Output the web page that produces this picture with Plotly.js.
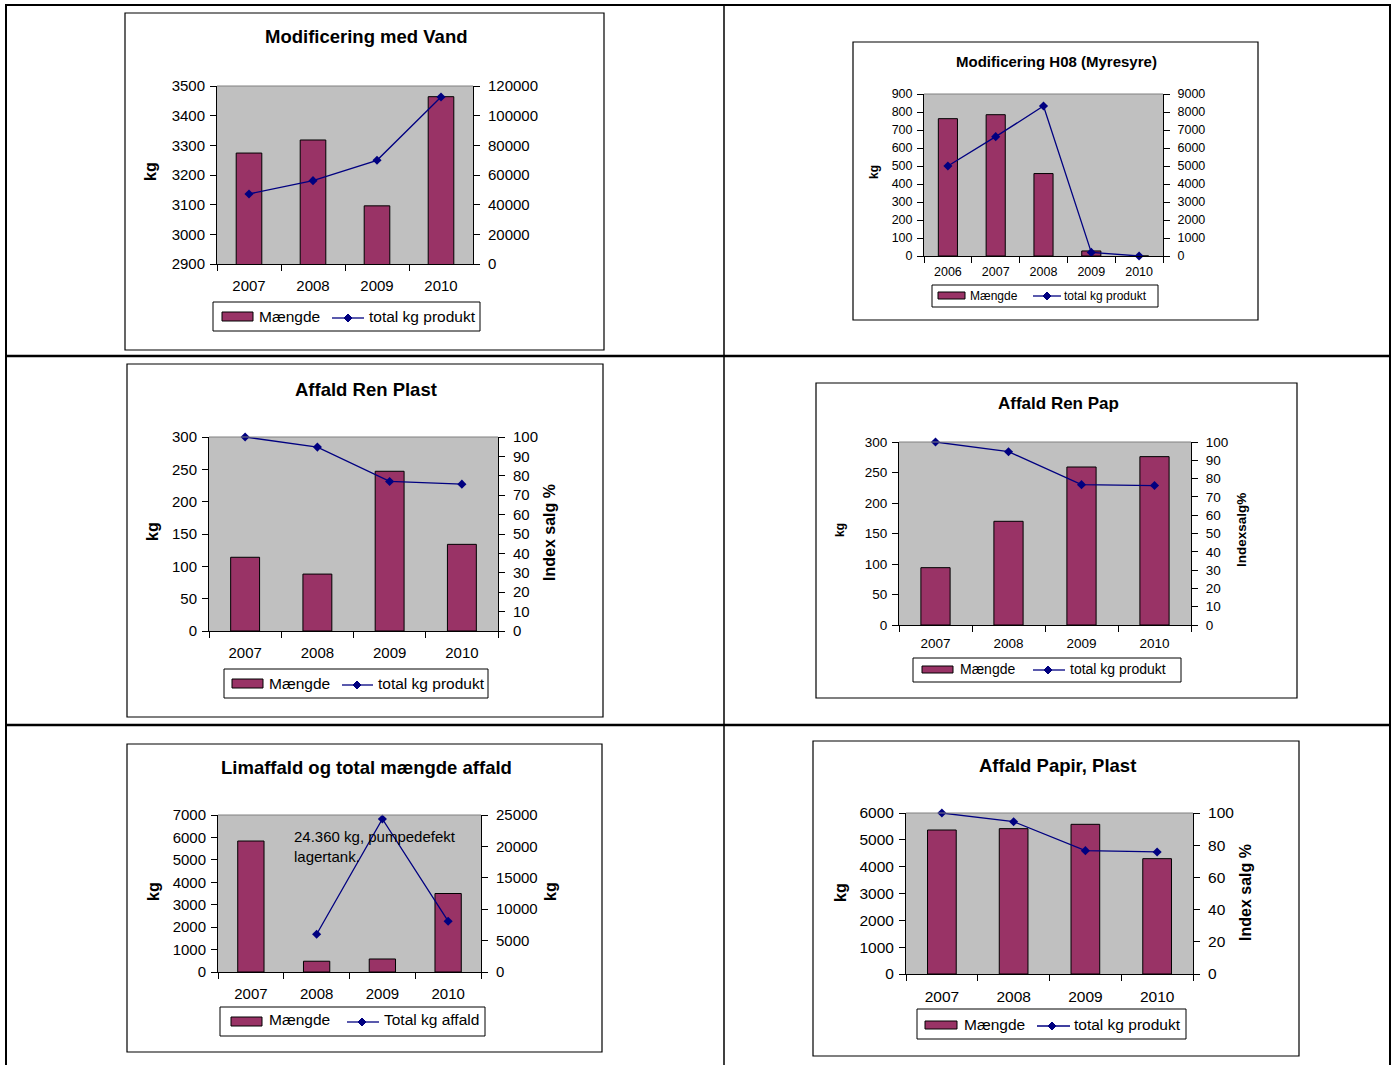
<!DOCTYPE html>
<html>
<head>
<meta charset="utf-8">
<script src="https://cdn.plot.ly/plotly-3.0.1.min.js"></script>
<style>
html,body{margin:0;padding:0;background:#fff;}
#chart{width:1394px;height:1065px;}
</style>
</head>
<body>
<div id="chart"></div>
<script>
// ---------- DATA ----------
const years4 = ['2007', '2008', '2009', '2010'];
const years5 = ['2006', '2007', '2008', '2009', '2010'];

const vandTitle = 'Modificering med Vand';
const vandMaengde = [3274, 3318, 3096, 3464];
const vandTotal = [47200, 56200, 69900, 112600];

const h08Title = 'Modificering H08 (Myresyre)';
const h08Maengde = [763, 785, 458, 28, 0];
const h08Total = [5000, 6630, 8330, 200, 0];

const plastTitle = 'Affald Ren Plast';
const plastMaengde = [114, 88, 247, 134];
const plastIndex = [100, 94.8, 77.1, 75.7];

const papTitle = 'Affald Ren Pap';
const papMaengde = [94, 170, 259, 276];
const papIndex = [100, 94.7, 76.7, 76.2];

const limTitle = 'Limaffald og total mængde affald';
const limMaengde = [5840, 480, 580, 3500];
const limTotal = [null, 6010, 24360, 8090];
const limNote = '24.360 kg, pumpedefekt<br>lagertank.';

const papirTitle = 'Affald Papir, Plast';
const papirMaengde = [5366, 5416, 5578, 4298];
const papirIndex = [100, 94.6, 76.6, 75.8];

const barName = 'Mængde';
const lineNameProdukt = 'total kg produkt';
const lineNameAffald = 'Total kg affald';

// ---------- STYLE / LAYOUT HELPERS ----------
const W = 1394, H = 1065;
const X = px => px / W;
const Y = py => 1 - py / H;
const FONT = 'Liberation Sans, Arial, sans-serif';
const BAR_COLOR = '#993366';
const LINE_COLOR = '#000080';

const data = [];
const layout = {
  width: W, height: H,
  margin: {l: 0, r: 0, t: 0, b: 0},
  paper_bgcolor: '#ffffff',
  plot_bgcolor: '#C0C0C0',
  showlegend: false,
  bargap: 0.6,
  font: {family: FONT, color: '#000'},
  shapes: [],
  annotations: []
};

function line(x0, y0, x1, y1, w, c) {
  layout.shapes.push({type: 'line', xref: 'paper', yref: 'paper',
    x0: X(x0), y0: Y(y0), x1: X(x1), y1: Y(y1),
    line: {color: c || '#000', width: w || 1}});
}
function rect(x0, y0, x1, y1, w, c, fill) {
  layout.shapes.push({type: 'rect', xref: 'paper', yref: 'paper',
    x0: X(x0), y0: Y(y0), x1: X(x1), y1: Y(y1),
    line: {color: c || '#000', width: w === undefined ? 1 : w},
    fillcolor: fill || 'rgba(0,0,0,0)'});
}
function text(t, x, y, size, opts) {
  layout.annotations.push(Object.assign({
    text: t, xref: 'paper', yref: 'paper', x: X(x), y: Y(y),
    showarrow: false, xanchor: 'center', yanchor: 'middle',
    font: {family: FONT, size: size, color: '#000'}
  }, opts || {}));
}

function chart(i, c) {
  const xid = i === 1 ? 'x' : 'x' + i;
  const yid = i === 1 ? 'y' : 'y' + i;
  const y2n = i + 6;
  const y2id = 'y' + y2n;
  const xa = i === 1 ? 'xaxis' : 'xaxis' + i;
  const ya = i === 1 ? 'yaxis' : 'yaxis' + i;
  const y2a = 'yaxis' + y2n;
  const tf = {family: FONT, size: c.tick, color: '#000'};

  data.push({type: 'bar', x: c.cats, y: c.bars, name: c.barName,
    xaxis: xid, yaxis: yid,
    marker: {color: BAR_COLOR, line: {color: '#000', width: 1}},
    hoverinfo: 'skip'});
  data.push({type: 'scatter', mode: 'lines+markers', x: c.cats, y: c.line, name: c.lineName,
    xaxis: xid, yaxis: y2id, cliponaxis: false,
    line: {color: LINE_COLOR, width: 1.3},
    marker: {symbol: 'diamond', size: 7, color: LINE_COLOR},
    hoverinfo: 'skip'});

  layout[xa] = {domain: [X(c.plot[0]), X(c.plot[2])], anchor: yid,
    type: 'category', range: [-0.5, c.cats.length - 0.5],
    tickson: 'boundaries', ticks: 'outside', ticklen: 6, tickcolor: '#000',
    showline: true, linecolor: '#000', linewidth: 1,
    showgrid: false, zeroline: false, tickfont: tf, ticklabelstandoff: c.xstand,
    fixedrange: true};
  layout[ya] = {domain: [Y(c.plot[3]), Y(c.plot[1])], anchor: xid,
    range: c.lRange, dtick: c.lDtick, tick0: c.lRange[0],
    ticks: 'outside', ticklen: 6, tickcolor: '#000',
    showline: true, linecolor: '#000', linewidth: 1,
    showgrid: false, zeroline: false, tickfont: tf, ticklabelstandoff: 2,
    exponentformat: 'none', separatethousands: false,
    fixedrange: true};
  layout[y2a] = {overlaying: yid, side: 'right', anchor: xid,
    range: c.rRange, dtick: c.rDtick, tick0: 0,
    ticks: 'outside', ticklen: 6, tickcolor: '#000',
    showline: true, linecolor: '#000', linewidth: 1,
    showgrid: false, zeroline: false, tickfont: tf, ticklabelstandoff: 5,
    exponentformat: 'none', separatethousands: false, tickformat: 'd',
    fixedrange: true};

  // plot-area top border (grey) and chart frame
  line(c.plot[0], c.plot[1], c.plot[2], c.plot[1], 1, '#808080');
  rect(c.frame[0], c.frame[1], c.frame[2], c.frame[3], 1.2, '#000');

  // title
  text('<b>' + c.title + '</b>', c.titlePos[0], c.titlePos[1], c.titleSize);
  // axis titles
  text('<b>' + c.lTitle + '</b>', c.lTitlePos[0], c.lTitlePos[1], c.lTitleSize, {textangle: -90});
  if (c.rTitle) text('<b>' + c.rTitle + '</b>', c.rTitlePos[0], c.rTitlePos[1], c.rTitleSize, {textangle: -90});

  // legend
  const L = c.leg;
  rect(L.box[0], L.box[1], L.box[2], L.box[3], 1, '#000');
  rect(L.swatch[0], L.swatch[1], L.swatch[2], L.swatch[3], 1, '#000', BAR_COLOR);
  text(c.barName, L.t1, L.cy, L.size, {xanchor: 'left'});
  line(L.ln[0], L.ln[2], L.ln[1], L.ln[2], 1.3, LINE_COLOR);
  const d = 4, cx = L.dia, cy = L.ln[2];
  layout.shapes.push({type: 'path', xref: 'paper', yref: 'paper',
    path: `M ${X(cx - d)},${Y(cy)} L ${X(cx)},${Y(cy - d)} L ${X(cx + d)},${Y(cy)} L ${X(cx)},${Y(cy + d)} Z`,
    fillcolor: LINE_COLOR, line: {color: LINE_COLOR, width: 1}});
  text(c.lineName, L.t2, L.cy, L.size, {xanchor: 'left'});
}

// ---------- CHARTS ----------
chart(1, {
  title: vandTitle, cats: years4, bars: vandMaengde, line: vandTotal,
  barName: barName, lineName: lineNameProdukt,
  plot: [217, 86, 473, 264], frame: [125, 13, 604, 350],
  titlePos: [366, 37], titleSize: 18.5, tick: 15, xstand: 8,
  lRange: [2900, 3500], lDtick: 100, rRange: [0, 120000], rDtick: 20000,
  lTitle: 'kg', lTitlePos: [151, 172], lTitleSize: 16,
  leg: {box: [213, 302, 480, 331], swatch: [222, 312, 253, 321], t1: 257, cy: 316,
        ln: [332, 364, 318], dia: 348, t2: 367, size: 15.5}
});

chart(2, {
  title: h08Title, cats: years5, bars: h08Maengde, line: h08Total,
  barName: barName, lineName: lineNameProdukt,
  plot: [924, 94, 1163, 256], frame: [853, 42, 1258, 320],
  titlePos: [1056, 62], titleSize: 15, tick: 12.5, xstand: 4,
  lRange: [0, 900], lDtick: 100, rRange: [0, 9000], rDtick: 1000,
  lTitle: 'kg', lTitlePos: [874, 172], lTitleSize: 12,
  leg: {box: [932, 285, 1158, 307], swatch: [938, 292, 965, 299], t1: 968, cy: 296,
        ln: [1033, 1061, 296], dia: 1047, t2: 1062, size: 12}
});

chart(3, {
  title: plastTitle, cats: years4, bars: plastMaengde, line: plastIndex,
  barName: barName, lineName: lineNameProdukt,
  plot: [209, 437, 498, 631], frame: [127, 364, 603, 717],
  titlePos: [366, 389], titleSize: 18.5, tick: 15, xstand: 8,
  lRange: [0, 300], lDtick: 50, rRange: [0, 100], rDtick: 10,
  lTitle: 'kg', lTitlePos: [153, 532], lTitleSize: 16,
  rTitle: 'Index salg %', rTitlePos: [549, 533], rTitleSize: 16,
  leg: {box: [224, 669, 488, 698], swatch: [232, 679, 263, 688], t1: 267, cy: 683,
        ln: [342, 373, 685], dia: 357, t2: 376, size: 15.5}
});

chart(4, {
  title: papTitle, cats: years4, bars: papMaengde, line: papIndex,
  barName: barName, lineName: lineNameProdukt,
  plot: [899, 442, 1191, 625], frame: [816, 383, 1297, 698],
  titlePos: [1058, 403], titleSize: 17, tick: 13.5, xstand: 6,
  lRange: [0, 300], lDtick: 50, rRange: [0, 100], rDtick: 10,
  lTitle: 'kg', lTitlePos: [840, 530], lTitleSize: 12,
  rTitle: 'Indexsalg%', rTitlePos: [1241, 530], rTitleSize: 13.5,
  leg: {box: [913, 658, 1181, 682], swatch: [922, 666, 953, 673], t1: 958, cy: 669,
        ln: [1033, 1065, 670], dia: 1048, t2: 1068, size: 14}
});

chart(5, {
  title: limTitle, cats: years4, bars: limMaengde, line: limTotal,
  barName: barName, lineName: lineNameAffald,
  plot: [218, 815, 481, 972], frame: [127, 744, 602, 1052],
  titlePos: [366, 767], titleSize: 18.5, tick: 15, xstand: 8,
  lRange: [0, 7000], lDtick: 1000, rRange: [0, 25000], rDtick: 5000,
  lTitle: 'kg', lTitlePos: [153, 892], lTitleSize: 16,
  rTitle: 'kg', rTitlePos: [550, 892], rTitleSize: 16,
  leg: {box: [220, 1007, 485, 1036], swatch: [231, 1017, 262, 1026], t1: 267, cy: 1020,
        ln: [347, 379, 1022], dia: 362, t2: 382, size: 15.5}
});
text(limNote, 292, 826, 15, {xanchor: 'left', yanchor: 'top', align: 'left'});

chart(6, {
  title: papirTitle, cats: years4, bars: papirMaengde, line: papirIndex,
  barName: barName, lineName: lineNameProdukt,
  plot: [906, 813, 1193, 974], frame: [813, 741, 1299, 1056],
  titlePos: [1057, 765], titleSize: 18.5, tick: 15.5, xstand: 8,
  lRange: [0, 6000], lDtick: 1000, rRange: [0, 100], rDtick: 20,
  lTitle: 'kg', lTitlePos: [840, 893], lTitleSize: 16,
  rTitle: 'Index salg %', rTitlePos: [1245, 893], rTitleSize: 16,
  leg: {box: [917, 1009, 1186, 1039], swatch: [925, 1021, 957, 1029], t1: 962, cy: 1024,
        ln: [1037, 1070, 1026], dia: 1052, t2: 1072, size: 15.5}
});

// ---------- TABLE GRID ----------
line(5, 5, 1391, 5, 2);
line(6, 5, 6, 1065, 2);
line(724, 5, 724, 1065, 1.5);
line(1390, 5, 1390, 1065, 2);
line(5, 356, 1391, 356, 2.5);
line(5, 725, 1391, 725, 2.5);

Plotly.newPlot('chart', data, layout, {displayModeBar: false, staticPlot: true});
</script>
</body>
</html>
